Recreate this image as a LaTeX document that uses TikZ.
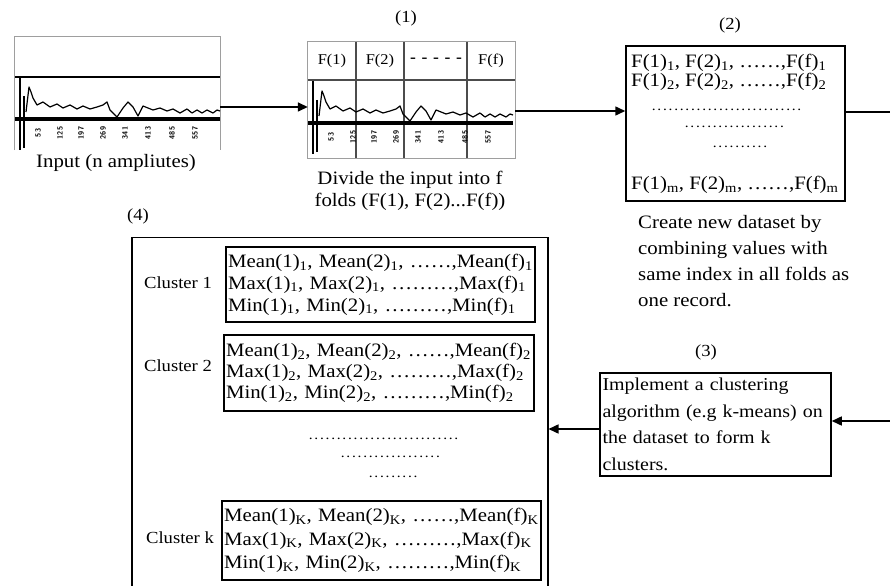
\documentclass[tikz,border=0pt]{standalone}
\usepackage{fontspec}
\setmainfont{Liberation Serif}[FakeStretch=1.1]
\usetikzlibrary{arrows.meta}
\newcommand\fs[2]{\fontsize{#1}{#2}\selectfont}
\newcommand\dotrow[1]{\hbox to #1{\leaders\hbox to 5.6bp{\hss.\hss}\hfill}}
\newcommand\sigwave{(26,112) -- (29,87) -- (31,92) -- (33,98) -- (37,105) -- (43,102) -- (50,107) -- (57,104) -- (63,108) -- (70,105) -- (77,109) -- (83,106) -- (90,109) -- (97,107) -- (103,105) -- (107,102) -- (110,110) -- (117,117) -- (123,108) -- (128,102) -- (133,107) -- (138,116) -- (143,106) -- (148,108) -- (153,110) -- (160,108) -- (167,111) -- (173,109) -- (180,113) -- (187,109) -- (192,113) -- (197,110) -- (202,113) -- (207,110) -- (213,113) -- (217,110) -- (220,111)}
\definecolor{frameg}{gray}{0.62}
\definecolor{gridg}{gray}{0.3}
\begin{document}
\begin{tikzpicture}[x=1bp,y=-1bp,
  arr/.style={line width=1.5bp,-{Triangle[length=10bp,width=9bp]}},
  boxb/.style={draw,line width=1.5bp,inner sep=0pt},
  txt/.style={font=\fs{19}{22},inner sep=0pt},
  lbl/.style={font=\fs{17}{20},inner sep=0pt},
  hdr/.style={font=\fs{15}{17},inner sep=0pt},
  tick/.style={rotate=90,font=\sffamily\bfseries\fs{7.5}{8},inner sep=0pt},
  dotsn/.style={font=\fs{14}{14},inner sep=0pt},
  sig/.style={line width=1.2bp,line join=round},
  spike/.style={line width=1.4bp}]
\useasboundingbox (0,0) rectangle (890,586);
\clip (0,0) rectangle (890,586);

% ---------- input chart ----------
\node[minimum width=205bp,minimum height=113bp,inner sep=0pt] (inp) at (117.5,93.5) {};
\draw[frameg,line width=1bp] (inp.south west) |- (inp.north east) -- (inp.south east);
\draw[line width=1.3bp] (15,77) -- (220,77);
\draw[spike] (20,77) -- (20,150);
\draw[spike] (24,96) -- (24,148);
\draw[sig] \sigwave;
\draw[line width=4bp] (15,119) -- (220,119);
\foreach \x/\t in {38/53,60/125,81/197,103/269,125/341,148/413,172/485,195/557}
  \node[tick] (ia\x) at (\x,133) {\t};
\node[txt] (inpcap) at (116,163) {Input (n ampliutes)};

% ---------- fold chart (1) ----------
\node[lbl] (n1) at (406,18) {(1)};
\node[minimum width=207bp,minimum height=116bp,inner sep=0pt] (fold) at (411.5,100) {};
\draw[frameg,line width=1bp] (fold.south west) rectangle (fold.north east);
\draw[gridg,line width=1.2bp] (308,80) -- (515,80);
\foreach \x in {356,404,467} \draw[gridg,line width=1.2bp] (\x,42) -- (\x,158);
\node[hdr] (h1) at (332,61) {F(1)};
\node[hdr] (h2) at (380,61) {F(2)};
\node[hdr,font=\bfseries\fs{16}{16}] (h3) at (436,60) {\hbox to 52bp{-\hfill-\hfill-\hfill-\hfill-}};
\node[hdr] (h4) at (491,61) {F(f)};
\begin{scope}[shift={(293,4)}]
  \draw[spike] (20,77) -- (20,150);
  \draw[spike] (24,96) -- (24,148);
  \draw[sig] \sigwave;
  \draw[line width=4bp] (15,119) -- (220,119);
  \foreach \x/\t in {38/53,60/125,81/197,103/269,125/341,148/413,172/485,195/557}
    \node[tick] (fa\x) at (\x,133) {\t};
\end{scope}
\node[txt,align=center] (foldcap) at (410,191) {Divide the input into f\\folds (F(1), F(2)...F(f))};

% ---------- dataset box (2) ----------
\node[lbl] (n2) at (730,25) {(2)};
\node[boxb,minimum width=219bp,minimum height=155bp] (ds) at (735.5,123.5) {};
\node[txt,anchor=west] (ds1) at (631,63) {F(1)\textsubscript{1}, F(2)\textsubscript{1}, ……,F(f)\textsubscript{1}};
\node[txt,anchor=west] (ds2) at (631,82) {F(1)\textsubscript{2}, F(2)\textsubscript{2}, ……,F(f)\textsubscript{2}};
\node[dotsn] (dd1) at (727,110) {\dotrow{152bp}};
\node[dotsn] (dd2) at (736,127) {\dotrow{104bp}};
\node[dotsn] (dd3) at (740,147) {\dotrow{56bp}};
\node[txt,anchor=west] (dsm) at (631,185) {F(1)\textsubscript{m}, F(2)\textsubscript{m}, ……,F(f)\textsubscript{m}};
\node[txt,align=left,anchor=west,font=\fs{19}{26}] (dscap) at (638,261)
  {Create new dataset by\\combining values with\\same index in all folds as\\one record.};

% ---------- clustering box (3) ----------
\node[lbl] (n3) at (706,352) {(3)};
\node[boxb,minimum width=231bp,minimum height=103bp,text width=226bp,inner xsep=2.5bp,align=left,font=\fs{18.2}{26.7}] (clu) at (715.5,424.5)
  {\mbox{Implement a clustering}\\\mbox{algorithm (e.g k-means) on}\\\mbox{the dataset to form k}\\\mbox{clusters.}};

% ---------- result box (4) ----------
\node[lbl] (n4) at (138,216) {(4)};
\node[boxb,minimum width=416bp,minimum height=400bp,anchor=north west] (res) at (131,237) {};
\node[lbl] (cl1) at (178,283) {Cluster 1};
\node[boxb,minimum width=309bp,minimum height=75bp,text width=305bp,inner xsep=2bp,align=left,font=\fs{19}{22}] (c1) at (380.5,284.5)
  {\mbox{Mean(1)\textsubscript{1}, Mean(2)\textsubscript{1}, ……,Mean(f)\textsubscript{1}}\\
   \mbox{Max(1)\textsubscript{1}, Max(2)\textsubscript{1}, ………,Max(f)\textsubscript{1}}\\
   \mbox{Min(1)\textsubscript{1}, Min(2)\textsubscript{1}, ………,Min(f)\textsubscript{1}}};
\node[lbl] (cl2) at (178,366) {Cluster 2};
\node[boxb,minimum width=310bp,minimum height=76bp,text width=306bp,inner xsep=2bp,align=left,font=\fs{19}{21}] (c2) at (379,373)
  {\mbox{Mean(1)\textsubscript{2}, Mean(2)\textsubscript{2}, ……,Mean(f)\textsubscript{2}}\\
   \mbox{Max(1)\textsubscript{2}, Max(2)\textsubscript{2}, ………,Max(f)\textsubscript{2}}\\
   \mbox{Min(1)\textsubscript{2}, Min(2)\textsubscript{2}, ………,Min(f)\textsubscript{2}}};
\node[dotsn] (cd1) at (384,439) {\dotrow{152bp}};
\node[dotsn] (cd2) at (391.5,457) {\dotrow{103bp}};
\node[dotsn] (cd3) at (395.5,477) {\dotrow{55bp}};
\node[lbl] (clk) at (180,538) {Cluster k};
\node[boxb,minimum width=319bp,minimum height=79bp,text width=315bp,inner xsep=2bp,align=left,font=\fs{19}{23.5}] (ck) at (381.5,540.5)
  {\mbox{Mean(1)\textsubscript{K}, Mean(2)\textsubscript{K}, ……,Mean(f)\textsubscript{K}}\\
   \mbox{Max(1)\textsubscript{K}, Max(2)\textsubscript{K}, ………,Max(f)\textsubscript{K}}\\
   \mbox{Min(1)\textsubscript{K}, Min(2)\textsubscript{K}, ………,Min(f)\textsubscript{K}}};

% ---------- connectors ----------
\coordinate (ya) at (0,107);
\coordinate (yb) at (0,111);
\coordinate (yc) at (0,112);
\coordinate (yd) at (0,421);
\coordinate (ye) at (0,429);
\draw[arr] (inp.east |- ya) -- (fold.west |- ya);
\draw[arr] (fold.east |- yb) -- (ds.west |- yb);
\draw[arr] (ds.east |- yc) -- ++(60,0) |- (clu.east |- yd);
\draw[arr] (clu.west |- ye) -- (res.east |- ye);
\end{tikzpicture}
\end{document}
